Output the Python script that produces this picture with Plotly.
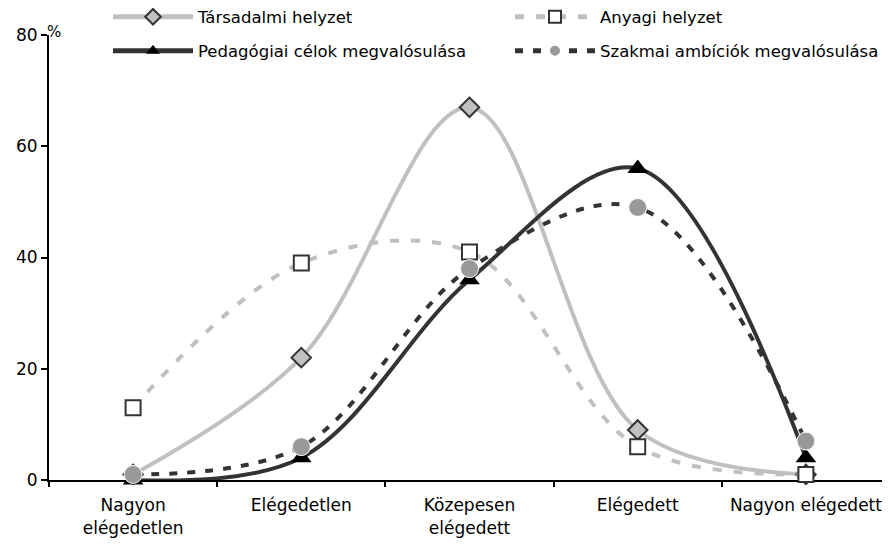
import plotly.graph_objects as go

categories = ["Nagyon<br>elégedetlen", "Elégedetlen", "Közepesen<br>elégedett", "Elégedett", "Nagyon elégedett"]
tarsadalmi = [1, 22, 67, 9, 1]
anyagi = [13, 39, 41, 6, 1]
pedagogiai = [0, 4, 36, 56, 4]
szakmai = [1, 6, 38, 49, 7]

light = "#c0c0c0"
dark = "#333333"

# page body has an 8px margin, so the figure is a bit smaller than the window
W, H = 882, 543

fig = go.Figure()

fig.add_trace(go.Scatter(
    x=categories, y=tarsadalmi, name="Társadalmi helyzet", legend="legend",
    mode="lines+markers", line=dict(color=light, width=4, shape="spline", smoothing=1),
    marker=dict(symbol="diamond", size=15, color=light, line=dict(color=dark, width=2)),
    cliponaxis=False
))
fig.add_trace(go.Scatter(
    x=categories, y=anyagi, name="Anyagi helyzet", legend="legend2",
    mode="lines+markers", line=dict(color=light, width=4, dash="9px,12px", shape="spline", smoothing=1),
    marker=dict(symbol="square", size=15, color="white", line=dict(color=dark, width=2)),
    cliponaxis=False
))
fig.add_trace(go.Scatter(
    x=categories, y=pedagogiai, name="Pedagógiai célok megvalósulása", legend="legend3",
    mode="lines+markers", line=dict(color=dark, width=4, shape="spline", smoothing=1),
    marker=dict(symbol="triangle-up", size=18, color="black"),
    cliponaxis=False
))
fig.add_trace(go.Scatter(
    x=categories, y=szakmai, name="Szakmai ambíciók megvalósulása", legend="legend4",
    mode="lines+markers", line=dict(color=dark, width=4, dash="8px,10px", shape="spline", smoothing=1),
    marker=dict(symbol="circle", size=18, color="#999999", line=dict(color="white", width=1)),
    cliponaxis=False
))

fig.add_annotation(
    xref="paper", yref="paper", x=0, y=1, xanchor="left", yanchor="bottom",
    text="%", showarrow=False, font=dict(size=15, color="black"), xshift=-4, yshift=-8
)

def leg(x, y):
    return dict(
        orientation="h", xref="container", yref="container",
        x=x / W, y=1 - y / H, xanchor="left", yanchor="middle",
        itemwidth=80, font=dict(size=16.5), bgcolor="rgba(0,0,0,0)",
        itemsizing="constant"
    )

fig.update_layout(
    width=W, height=H,
    margin=dict(l=41, r=0, t=27, b=71, autoexpand=False),
    paper_bgcolor="white", plot_bgcolor="white",
    font=dict(family="DejaVu Sans", size=17, color="black"),
    showlegend=True,
    legend=leg(100, 9),
    legend2=leg(502, 9),
    legend3=leg(100, 43),
    legend4=leg(502, 43),
    xaxis=dict(
        type="category", range=[-0.5, 4.5], showline=True, linecolor="black", linewidth=2,
        ticks="outside", tickson="boundaries", ticklen=5, tickcolor="black", tickwidth=2,
        ticklabelstandoff=9, layer="below traces",
        showgrid=False, zeroline=False, automargin=False
    ),
    yaxis=dict(
        range=[0, 80], dtick=20, showline=True, linecolor="black", linewidth=2,
        ticks="outside", ticklen=6, tickcolor="black", tickwidth=2,
        layer="below traces",
        showgrid=False, zeroline=False, automargin=False
    ),
)

fig.write_html("out.html")
